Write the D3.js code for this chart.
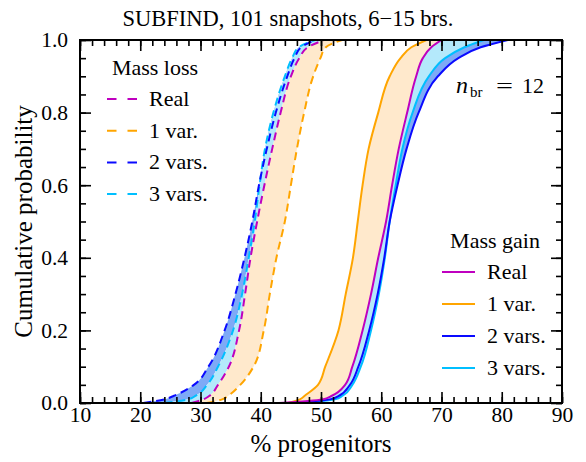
<!DOCTYPE html>
<html>
<head>
<meta charset="utf-8">
<script src="https://cdn.jsdelivr.net/npm/d3@7"></script>
<style>
body { margin: 0; background: #fff; }
svg { display: block; font-family: 'Liberation Serif', 'Times New Roman', Times, serif; }
</style>
</head>
<body>
<svg width="586" height="462"></svg>
<script>
const svg = d3.select("svg");
const serif = "'Liberation Serif', 'Times New Roman', Times, serif";

// DATA
// cumulative probability levels; each curve below gives the % progenitors at these levels
const probLevels = [0, 0.01, 0.02, 0.05, 0.1, 0.2, 0.3, 0.4, 0.5, 0.6, 0.7, 0.8, 0.9, 0.95, 0.98, 1];

// mass loss (dashed)
const lossReal = [28.5, 30.5, 31.5, 32.9, 34.7, 36.4, 37.4, 38.3, 39.4, 40.6, 41.9, 43.3, 45.0, 46.4, 47.8, 50.5];
const loss1 = [31.0, 33.6, 34.6, 36.6, 38.8, 40.5, 41.5, 42.6, 44.0, 45.0, 46.0, 47.2, 48.7, 49.9, 50.8, 53.5];
const loss2 = [20.5, 24.0, 25.6, 28.9, 31.3, 34.0, 35.8, 37.3, 38.6, 39.7, 41.0, 42.5, 44.4, 45.6, 46.7, 49.0];
const loss3 = [24.0, 27.9, 29.2, 31.1, 32.9, 35.4, 36.9, 38.0, 39.0, 39.8, 40.7, 42.1, 44.0, 45.2, 46.3, 49.0];

// mass gain (solid)
const gainReal = [43.0, 50.2, 51.8, 54.0, 55.2, 56.9, 58.3, 59.5, 60.8, 61.8, 62.9, 64.3, 65.8, 66.9, 68.3, 70.0];
const gain1 = [44.5, 46.5, 47.3, 49.5, 50.7, 52.9, 54.1, 55.3, 56.1, 56.9, 57.9, 59.5, 61.4, 63.2, 65.0, 67.5];
const gain2 = [46.0, 51.5, 53.0, 54.8, 56.2, 58.0, 59.4, 60.5, 61.4, 62.7, 64.2, 66.2, 69.4, 72.8, 76.5, 81.0];
const gain3 = [47.0, 52.3, 53.6, 55.2, 56.6, 58.3, 59.6, 60.6, 61.4, 62.4, 63.5, 65.2, 67.9, 70.6, 73.8, 77.0];

const seriesNames = ["Real", "1 var.", "2 vars.", "3 vars."];
const xTicks = [10, 20, 30, 40, 50, 60, 70, 80, 90];
const yTicks = [0, 0.2, 0.4, 0.6, 0.8, 1.0];

// CONSTANTS
const margin = { top: 40, left: 80, right: 24, bottom: 59 };
const width = 586, height = 462;
const innerWidth = width - margin.left - margin.right;
const innerHeight = height - margin.top - margin.bottom;

const colors = ["#bf00bf", "#ffa500", "#0a0aff", "#00bfff"];
const fillOrange = "#ffe9cc", fillCyan = "#b4e9fb", fillBlue = "#7eaaf6";

// SCALES
const xScale = d3.scaleLinear().domain([10, 90]).range([0, innerWidth]);
const yScale = d3.scaleLinear().domain([0, 1]).range([innerHeight, 0]);

const g = svg.append("g").attr("transform", `translate(${margin.left},${margin.top})`);

svg.append("defs").append("clipPath").attr("id", "clip")
  .append("rect").attr("width", innerWidth).attr("height", innerHeight);

const plot = g.append("g").attr("clip-path", "url(#clip)");

const toPoints = arr => arr.map((v, i) => [v, probLevels[i]]);

const line = d3.line()
  .x(d => xScale(d[0]))
  .y(d => yScale(d[1]))
  .curve(d3.curveMonotoneY);

const band = d3.area()
  .y(d => yScale(d.p))
  .x0(d => xScale(d.a))
  .x1(d => xScale(d.b))
  .curve(d3.curveMonotoneY);

const between = (a, b) => probLevels.map((p, i) => ({ p, a: a[i], b: b[i] }));

// shaded bands: 3 vars -> 2 vars, real -> 3 vars, real -> 1 var
[[loss3, loss2, fillBlue], [lossReal, loss3, fillCyan], [lossReal, loss1, fillOrange],
 [gain3, gain2, fillBlue], [gainReal, gain3, fillCyan], [gainReal, gain1, fillOrange]]
  .forEach(([a, b, c]) => {
    plot.append("path").attr("d", band(between(a, b))).attr("fill", c);
  });

// curves, drawn 3 vars, 2 vars, 1 var, real
const lossSets = [lossReal, loss1, loss2, loss3];
const gainSets = [gainReal, gain1, gain2, gain3];
[3, 2, 1, 0].forEach(i => {
  plot.append("path").attr("d", line(toPoints(lossSets[i])))
    .attr("fill", "none").attr("stroke", colors[i]).attr("stroke-width", 2)
    .attr("stroke-dasharray", "8,5");
});
[3, 2, 1, 0].forEach(i => {
  plot.append("path").attr("d", line(toPoints(gainSets[i])))
    .attr("fill", "none").attr("stroke", colors[i]).attr("stroke-width", 2);
});

// AXES (ticks inward on all four sides)
const xMinor = d3.range(10, 91, 2);
const yMinor = d3.range(0, 1.0001, 0.05);

function styleAxis(sel) {
  sel.attr("font-family", serif).attr("font-size", 21.5);
  sel.select(".domain").remove();
  sel.selectAll(".tick line").attr("stroke", "#000").attr("stroke-width", 1.6);
  sel.selectAll("text").attr("fill", "#000");
}
// tick marks only, no label text
function bare(sel) {
  styleAxis(sel);
  sel.selectAll("text").remove();
}

g.append("g").attr("transform", `translate(0,${innerHeight})`)
  .call(d3.axisBottom(xScale).tickValues(xMinor).tickSize(-6)).call(bare);
g.append("g").attr("transform", `translate(0,${innerHeight})`)
  .call(d3.axisBottom(xScale).tickValues(xTicks).tickSize(-11).tickPadding(4).tickFormat(d3.format("d")))
  .call(styleAxis);
g.append("g")
  .call(d3.axisTop(xScale).tickValues(xMinor).tickSize(-6)).call(bare);
g.append("g")
  .call(d3.axisTop(xScale).tickValues(xTicks).tickSize(-11)).call(bare);

g.append("g")
  .call(d3.axisLeft(yScale).tickValues(yMinor).tickSize(-6)).call(bare);
g.append("g")
  .call(d3.axisLeft(yScale).tickValues(yTicks).tickSize(-11).tickPadding(12).tickFormat(d3.format(".1f")))
  .call(styleAxis);
g.append("g").attr("transform", `translate(${innerWidth},0)`)
  .call(d3.axisRight(yScale).tickValues(yMinor).tickSize(-6)).call(bare);
g.append("g").attr("transform", `translate(${innerWidth},0)`)
  .call(d3.axisRight(yScale).tickValues(yTicks).tickSize(-11)).call(bare);

g.append("rect").attr("width", innerWidth).attr("height", innerHeight)
  .attr("fill", "none").attr("stroke", "#000").attr("stroke-width", 2);

// LABELS
const label = (x, y, size, txt) => svg.append("text").attr("x", x).attr("y", y)
  .attr("font-family", serif).attr("font-size", size).attr("fill", "#000").text(txt);

label(288, 26, 22.5, "SUBFIND, 101 snapshots, 6\u221215 brs.").attr("text-anchor", "middle");
label(margin.left + innerWidth / 2, 452, 25, "% progenitors").attr("text-anchor", "middle");
label(0, 0, 25, "Cumulative probability").attr("text-anchor", "middle")
  .attr("transform", `translate(32,${margin.top + innerHeight / 2}) rotate(-90)`);

// n_br annotation
label(456, 93, 24, "n").attr("font-style", "italic");
label(470, 97, 15, "br");
label(496, 93, 22, "=").attr("textLength", 17).attr("lengthAdjust", "spacingAndGlyphs");
label(522, 93, 22, "12");

// LEGENDS
function legend(title, titleX, titleY, lineX0, lineX1, firstY, step, dashed) {
  label(titleX, titleY, 22, title).attr("text-anchor", "middle");
  const rows = svg.append("g").selectAll("g.row").data(seriesNames).enter().append("g")
    .attr("transform", (d, i) => `translate(0,${firstY + i * step})`);
  rows.append("line").attr("x1", lineX0).attr("x2", lineX1)
    .attr("stroke", (d, i) => colors[i]).attr("stroke-width", 2)
    .attr("stroke-dasharray", dashed ? "9.5,11" : null);
  rows.append("text").attr("x", lineX1 + 12).attr("y", 7)
    .attr("font-family", serif).attr("font-size", 22).attr("fill", "#000").text(d => d);
}

legend("Mass loss", 155, 75, 107, 137, 99, 31.7, true);
legend("Mass gain", 495, 248, 442, 475, 272, 32, false);
</script>
</body>
</html>
